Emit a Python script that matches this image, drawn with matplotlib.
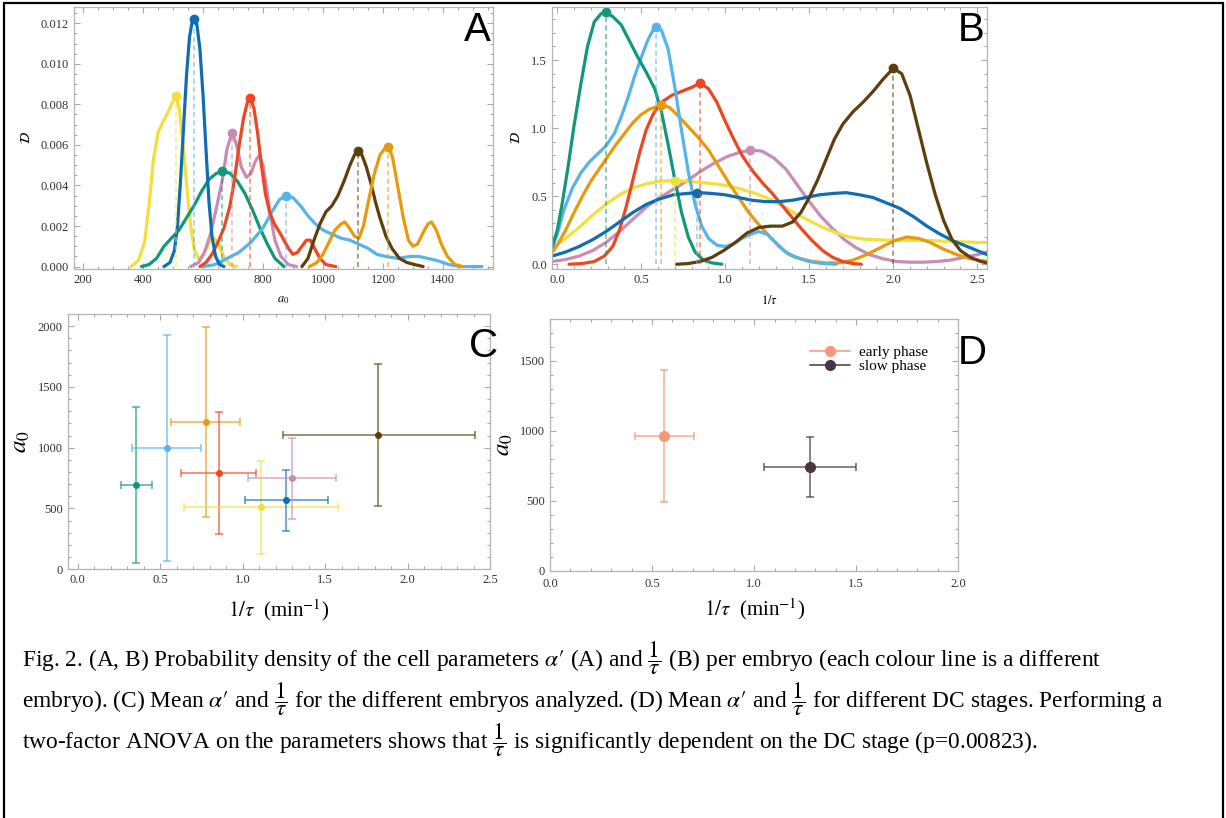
import matplotlib
matplotlib.use('Agg')
import matplotlib.pyplot as plt
from matplotlib.patches import Rectangle
from matplotlib.ticker import MultipleLocator

plt.rcParams['font.family'] = ['Liberation Serif', 'DejaVu Serif']
plt.rcParams['mathtext.fontset'] = 'stix'

# colours, one per embryo
c_yellow = '#F2E03A'
c_blue = '#0F6DB0'
c_green = '#11987A'
c_pink = '#C98DB4'
c_red = '#EE4620'
c_lblue = '#56B4E9'
c_brown = '#5E3F0B'
c_orange = '#E69A0C'

# ---- panel A: density of a0 per embryo
a_yellow_x = [360, 385, 405, 420, 435, 450, 465, 480, 495, 510, 522, 535, 548, 560, 572, 585, 598, 612, 625, 638, 652, 668, 690, 712]
a_yellow_y = [0, 0.0003, 0.0012, 0.0030, 0.0053, 0.0066, 0.0071, 0.0075, 0.0080, 0.0084, 0.0077, 0.0058, 0.0036, 0.0019, 0.0008, 0.0004, 0.0005, 0.0009, 0.0013, 0.0014, 0.0011, 0.0005, 0.0001, 0]
a_blue_x = [470, 490, 505, 515, 525, 535, 545, 555, 563, 571, 580, 590, 600, 610, 620, 630, 642, 655, 670]
a_blue_y = [0, 0.0002, 0.0008, 0.0020, 0.0042, 0.0068, 0.0094, 0.0113, 0.0120, 0.0122, 0.0119, 0.0107, 0.0085, 0.0058, 0.0032, 0.0015, 0.0005, 0.0001, 0]
a_green_x = [395, 420, 445, 470, 495, 520, 545, 570, 595, 620, 645, 668, 690, 715, 740, 765, 790, 815, 840, 870]
a_green_y = [0, 0.0001, 0.0004, 0.0010, 0.0014, 0.0018, 0.0024, 0.0030, 0.0037, 0.0043, 0.0046, 0.0047, 0.0046, 0.0042, 0.0036, 0.0028, 0.0019, 0.0011, 0.0004, 0]
a_pink_x = [559, 585, 605, 625, 645, 665, 680, 697, 712, 728, 745, 760, 775, 788, 800, 812, 825, 840, 860, 885, 912]
a_pink_y = [0, 0.0002, 0.0007, 0.0016, 0.0029, 0.0043, 0.0058, 0.0066, 0.0060, 0.0049, 0.0044, 0.0046, 0.0052, 0.0055, 0.0050, 0.0039, 0.0025, 0.0013, 0.0005, 0.0001, 0]
a_red_x = [590, 610, 630, 650, 670, 690, 705, 720, 735, 748, 758, 770, 782, 795, 808, 822, 838, 855, 870, 885, 900, 915, 930, 945, 958, 972, 990, 1010, 1043]
a_red_y = [0, 0.0002, 0.0006, 0.0012, 0.0019, 0.0030, 0.0043, 0.0059, 0.0073, 0.0081, 0.0083, 0.0078, 0.0066, 0.0050, 0.0036, 0.0027, 0.0021, 0.0017, 0.0013, 0.0009, 0.0006, 0.0007, 0.0010, 0.0013, 0.0013, 0.0009, 0.0004, 0.0001, 0]
a_lblue_x = [600, 640, 680, 720, 760, 800, 830, 855, 877, 900, 925, 950, 975, 1000, 1030, 1060, 1090, 1120, 1150, 1180, 1210, 1250, 1290, 1320, 1350, 1380, 1420, 1460, 1530]
a_lblue_y = [0, 0.0001, 0.0004, 0.0007, 0.0012, 0.0019, 0.0027, 0.0033, 0.0035, 0.0034, 0.0030, 0.0025, 0.0021, 0.0018, 0.0016, 0.0014, 0.0013, 0.0011, 0.0009, 0.0006, 0.0005, 0.0004, 0.0005, 0.0005, 0.0004, 0.0003, 0.0001, 0, 0]
a_brown_x = [930, 950, 970, 990, 1010, 1030, 1050, 1070, 1090, 1105, 1117, 1130, 1145, 1160, 1175, 1190, 1210, 1230, 1255, 1280, 1305, 1334]
a_brown_y = [0, 0.0004, 0.0013, 0.0021, 0.0027, 0.0030, 0.0035, 0.0042, 0.0050, 0.0055, 0.0057, 0.0055, 0.0049, 0.0041, 0.0032, 0.0024, 0.0015, 0.0009, 0.0004, 0.0002, 0.0001, 0]
a_orange_x = [955, 980, 1000, 1020, 1040, 1060, 1073, 1088, 1105, 1120, 1135, 1150, 1170, 1190, 1205, 1218, 1232, 1250, 1268, 1285, 1300, 1315, 1335, 1350, 1362, 1378, 1395, 1415, 1440, 1467]
a_orange_y = [0, 0.0002, 0.0006, 0.0012, 0.0018, 0.0021, 0.0022, 0.0019, 0.0015, 0.0014, 0.0020, 0.0031, 0.0045, 0.0055, 0.0058, 0.0059, 0.0054, 0.0039, 0.0024, 0.0013, 0.0010, 0.0011, 0.0017, 0.0021, 0.0022, 0.0018, 0.0011, 0.0005, 0.0001, 0]
a_peak_x = [510, 571, 665, 697, 758, 877, 1117, 1218]
a_peak_y = [0.0084, 0.0122, 0.0047, 0.0066, 0.0083, 0.0035, 0.0057, 0.0059]

# ---- panel B: density of 1/tau per embryo
b_green_x = [-0.03, 0.0, 0.03, 0.065, 0.1, 0.14, 0.18, 0.22, 0.26, 0.29, 0.33, 0.38, 0.43, 0.48, 0.53, 0.58, 0.62, 0.66, 0.70, 0.74, 0.78, 0.82, 0.87, 0.92, 0.98]
b_green_y = [0.13, 0.25, 0.45, 0.72, 1.02, 1.32, 1.60, 1.78, 1.84, 1.85, 1.82, 1.76, 1.64, 1.52, 1.41, 1.29, 1.12, 0.88, 0.62, 0.38, 0.20, 0.09, 0.03, 0.01, 0.0]
b_lblue_x = [-0.03, 0.0, 0.04, 0.09, 0.14, 0.19, 0.24, 0.29, 0.34, 0.38, 0.42, 0.46, 0.50, 0.54, 0.57, 0.59, 0.62, 0.66, 0.70, 0.74, 0.78, 0.82, 0.86, 0.90, 0.95, 1.00, 1.05, 1.10, 1.15, 1.20, 1.25, 1.30, 1.36, 1.42, 1.50, 1.58, 1.66]
b_lblue_y = [0.12, 0.22, 0.40, 0.56, 0.67, 0.75, 0.81, 0.87, 0.96, 1.08, 1.22, 1.38, 1.52, 1.65, 1.72, 1.745, 1.72, 1.58, 1.30, 0.98, 0.68, 0.44, 0.28, 0.19, 0.14, 0.13, 0.15, 0.19, 0.22, 0.24, 0.22, 0.16, 0.09, 0.05, 0.02, 0.005, 0.0]
b_orange_x = [-0.03, 0.0, 0.05, 0.10, 0.15, 0.20, 0.25, 0.30, 0.35, 0.40, 0.45, 0.50, 0.55, 0.60, 0.63, 0.67, 0.72, 0.78, 0.84, 0.90, 0.96, 1.02, 1.08, 1.14, 1.20, 1.26, 1.32, 1.38, 1.45, 1.52, 1.60, 1.68, 1.76, 1.84, 1.92, 2.00, 2.08, 2.15, 2.22, 2.30, 2.38, 2.46, 2.56]
b_orange_y = [0.09, 0.14, 0.25, 0.38, 0.50, 0.61, 0.70, 0.79, 0.88, 0.96, 1.04, 1.10, 1.14, 1.16, 1.17, 1.15, 1.09, 1.01, 0.93, 0.84, 0.72, 0.60, 0.49, 0.38, 0.29, 0.21, 0.13, 0.07, 0.04, 0.02, 0.01, 0.01, 0.03, 0.07, 0.12, 0.17, 0.20, 0.19, 0.16, 0.11, 0.07, 0.04, 0.02]
b_red_x = [0.07, 0.15, 0.22, 0.28, 0.33, 0.37, 0.41, 0.45, 0.49, 0.53, 0.57, 0.62, 0.68, 0.74, 0.80, 0.85, 0.90, 0.95, 1.00, 1.05, 1.10, 1.16, 1.22, 1.28, 1.34, 1.40, 1.46, 1.52, 1.58, 1.64, 1.70, 1.76, 1.81]
b_red_y = [0.0, 0.005, 0.02, 0.06, 0.13, 0.25, 0.42, 0.62, 0.82, 0.99, 1.10, 1.19, 1.24, 1.27, 1.30, 1.33, 1.29, 1.19, 1.05, 0.92, 0.80, 0.69, 0.60, 0.52, 0.43, 0.34, 0.25, 0.17, 0.10, 0.05, 0.02, 0.005, 0.0]
b_pink_x = [-0.03, 0.05, 0.13, 0.21, 0.29, 0.37, 0.45, 0.53, 0.61, 0.69, 0.77, 0.85, 0.93, 1.01, 1.08, 1.15, 1.22, 1.29, 1.36, 1.43, 1.50, 1.57, 1.64, 1.71, 1.78, 1.86, 1.94, 2.02, 2.10, 2.18, 2.26, 2.34, 2.42, 2.50, 2.56]
b_pink_y = [0.02, 0.035, 0.06, 0.10, 0.16, 0.24, 0.33, 0.42, 0.49, 0.55, 0.61, 0.68, 0.74, 0.79, 0.82, 0.84, 0.83, 0.78, 0.70, 0.58, 0.46, 0.35, 0.26, 0.18, 0.12, 0.07, 0.04, 0.02, 0.015, 0.015, 0.02, 0.03, 0.05, 0.07, 0.09]
b_yellow_x = [-0.03, 0.05, 0.13, 0.21, 0.29, 0.37, 0.45, 0.53, 0.61, 0.70, 0.78, 0.86, 0.94, 1.02, 1.10, 1.18, 1.26, 1.34, 1.42, 1.50, 1.58, 1.66, 1.74, 1.82, 1.90, 2.00, 2.10, 2.20, 2.30, 2.40, 2.50, 2.56]
b_yellow_y = [0.12, 0.19, 0.27, 0.36, 0.44, 0.51, 0.56, 0.59, 0.61, 0.615, 0.61, 0.60, 0.59, 0.575, 0.55, 0.52, 0.48, 0.43, 0.37, 0.32, 0.27, 0.23, 0.20, 0.185, 0.18, 0.175, 0.175, 0.175, 0.17, 0.165, 0.16, 0.16]
b_blue_x = [-0.03, 0.05, 0.13, 0.21, 0.29, 0.37, 0.45, 0.53, 0.61, 0.69, 0.77, 0.845, 0.92, 1.00, 1.08, 1.16, 1.24, 1.32, 1.40, 1.48, 1.56, 1.64, 1.72, 1.80, 1.88, 1.96, 2.04, 2.12, 2.20, 2.28, 2.36, 2.44, 2.50, 2.56]
b_blue_y = [0.06, 0.09, 0.13, 0.18, 0.24, 0.31, 0.38, 0.44, 0.48, 0.51, 0.52, 0.526, 0.52, 0.51, 0.49, 0.47, 0.46, 0.46, 0.47, 0.49, 0.51, 0.52, 0.526, 0.51, 0.49, 0.45, 0.41, 0.35, 0.28, 0.22, 0.17, 0.13, 0.10, 0.07]
b_brown_x = [0.71, 0.78, 0.85, 0.92, 0.99, 1.06, 1.13, 1.20, 1.27, 1.34, 1.40, 1.45, 1.50, 1.55, 1.60, 1.65, 1.70, 1.76, 1.82, 1.88, 1.94, 2.00, 2.05, 2.10, 2.15, 2.20, 2.25, 2.30, 2.35, 2.40, 2.46, 2.52, 2.56]
b_brown_y = [0.0, 0.005, 0.02, 0.05, 0.10, 0.16, 0.23, 0.27, 0.28, 0.28, 0.31, 0.38, 0.49, 0.62, 0.77, 0.92, 1.03, 1.12, 1.19, 1.27, 1.36, 1.44, 1.40, 1.24, 0.99, 0.74, 0.51, 0.32, 0.18, 0.10, 0.05, 0.02, 0.01]
b_peak_x = [0.29, 0.59, 0.62, 0.70, 0.83, 0.85, 1.15, 2.00]
b_peak_y = [1.85, 1.745, 1.17, 0.615, 0.526, 1.33, 0.84, 1.44]

# ---- panel C: mean +- sd per embryo (1/tau, a0)
c_tau = [0.356, 0.541, 0.776, 0.857, 1.111, 1.262, 1.301, 1.824]
c_tau_lo = [0.261, 0.331, 0.567, 0.628, 0.648, 1.012, 1.036, 1.244]
c_tau_hi = [0.453, 0.750, 0.986, 1.083, 1.578, 1.517, 1.564, 2.410]
c_a0 = [693, 1000, 1211, 792, 512, 567, 748, 1105]
c_a0_lo = [49, 71, 433, 290, 126, 315, 414, 523]
c_a0_hi = [1332, 1927, 1990, 1296, 893, 817, 1080, 1688]

# ---- panel D: mean +- sd per DC stage
d_labels = ['early phase', 'slow phase']
d_tau = [0.56, 1.273]
d_tau_lo = [0.417, 1.05]
d_tau_hi = [0.706, 1.497]
d_a0 = [961, 739]
d_a0_lo = [491, 529]
d_a0_hi = [1436, 956]

fig = plt.figure(figsize=(12.26, 8.18), dpi=100)


def frame(ax):
    for s in ax.spines.values():
        s.set_color('#b4b4b4')
        s.set_linewidth(0.9)
    ax.tick_params(which='both', direction='in', top=True, right=True, colors='#a8a8a8',
                   labelcolor='#333333', labelsize=9, width=0.8)
    ax.tick_params(which='major', length=4.5)
    ax.tick_params(which='minor', length=2.5)


# A
axA = fig.add_axes([74/1226, 1-269/818, 419/1226, 262/818])
curvesA = [(a_yellow_x, a_yellow_y, c_yellow), (a_green_x, a_green_y, c_green),
           (a_lblue_x, a_lblue_y, c_lblue), (a_pink_x, a_pink_y, c_pink),
           (a_red_x, a_red_y, c_red), (a_blue_x, a_blue_y, c_blue),
           (a_brown_x, a_brown_y, c_brown), (a_orange_x, a_orange_y, c_orange)]
peak_colsA = [c_yellow, c_blue, c_green, c_pink, c_red, c_lblue, c_brown, c_orange]
for x, y, c in curvesA:
    axA.plot(x, y, color=c, lw=2.3, solid_joinstyle='round', solid_capstyle='round')
for px, py, c in zip(a_peak_x, a_peak_y, peak_colsA):
    dc = c_lblue if c == c_blue else c
    axA.vlines(px, 0, py, colors=dc, linestyles=(0, (3, 2)), lw=1.2, alpha=0.6)
    axA.plot(px, py, 'o', color=c, ms=6)
axA.set_xlim(170, 1567)
axA.set_ylim(-0.00012, 0.0128)
axA.xaxis.set_major_locator(MultipleLocator(200))
axA.xaxis.set_minor_locator(MultipleLocator(50))
axA.yaxis.set_major_locator(MultipleLocator(0.002))
axA.yaxis.set_minor_locator(MultipleLocator(0.0005))
axA.yaxis.set_major_formatter(plt.FuncFormatter(lambda v, p: '%.3f' % v))
frame(axA)
axA.set_xlabel(r'$a_0$', fontsize=9, labelpad=6)
axA.set_ylabel(r'$\mathcal{D}$', fontsize=10, labelpad=6)
axA.text(0.995, 0.985, 'A', transform=axA.transAxes, ha='right', va='top',
         fontsize=29, family='Liberation Sans')

# B
axB = fig.add_axes([551.7/1226, 1-269/818, 435/1226, 262/818])
curvesB = [(b_pink_x, b_pink_y, c_pink), (b_yellow_x, b_yellow_y, c_yellow),
           (b_orange_x, b_orange_y, c_orange), (b_red_x, b_red_y, c_red),
           (b_lblue_x, b_lblue_y, c_lblue), (b_green_x, b_green_y, c_green),
           (b_blue_x, b_blue_y, c_blue), (b_brown_x, b_brown_y, c_brown)]
peak_colsB = [c_green, c_lblue, c_orange, c_yellow, c_blue, c_red, c_pink, c_brown]
for x, y, c in curvesB:
    axB.plot(x, y, color=c, lw=2.3, solid_joinstyle='round', solid_capstyle='round')
for px, py, c in zip(b_peak_x, b_peak_y, peak_colsB):
    dc = c_lblue if c == c_blue else c
    axB.vlines(px, 0, py, colors=dc, linestyles=(0, (3, 2)), lw=1.2, alpha=0.6)
    axB.plot(px, py, 'o', color=c, ms=6)
axB.set_xlim(-0.033, 2.556)
axB.set_ylim(-0.035, 1.89)
axB.xaxis.set_major_locator(MultipleLocator(0.5))
axB.xaxis.set_minor_locator(MultipleLocator(0.1))
axB.yaxis.set_major_locator(MultipleLocator(0.5))
axB.yaxis.set_minor_locator(MultipleLocator(0.1))
frame(axB)
axB.set_xlabel(r'$1/\tau$', fontsize=9, labelpad=6)
axB.set_ylabel(r'$\mathcal{D}$', fontsize=10, labelpad=6)
axB.text(0.995, 0.985, 'B', transform=axB.transAxes, ha='right', va='top',
         fontsize=29, family='Liberation Sans')

# C
axC = fig.add_axes([67.7/1226, 1-569.3/818, 422.3/1226, 255.3/818])
colsC = [c_green, c_lblue, c_orange, c_red, c_yellow, c_blue, c_pink, c_brown]
for i, c in enumerate(colsC):
    xe = [[c_tau[i] - c_tau_lo[i]], [c_tau_hi[i] - c_tau[i]]]
    ye = [[c_a0[i] - c_a0_lo[i]], [c_a0_hi[i] - c_a0[i]]]
    axC.errorbar([c_tau[i]], [c_a0[i]], xerr=xe, yerr=ye, fmt='none', ecolor=c,
                 elinewidth=1.1, capsize=3, capthick=1.1, alpha=0.75)
    axC.plot(c_tau[i], c_a0[i], 'o', color=c, ms=4)
axC.set_xlim(-0.06, 2.5)
axC.set_ylim(0, 2099)
axC.xaxis.set_major_locator(MultipleLocator(0.5))
axC.xaxis.set_minor_locator(MultipleLocator(0.1))
axC.yaxis.set_major_locator(MultipleLocator(500))
axC.yaxis.set_minor_locator(MultipleLocator(100))
frame(axC)
axC.set_xlabel(r'$1/\tau$  (min$^{-1}$)', fontsize=15, labelpad=8)
axC.set_ylabel(r'$a_0$', fontsize=18, labelpad=4)
axC.text(1.02, 0.95, 'C', transform=axC.transAxes, ha='right', va='top',
         fontsize=29, family='Liberation Sans')

# D
axD = fig.add_axes([550/1226, 1-570.7/818, 408.3/1226, 251.7/818])
colsD = ['#F5977A', '#4A3442']
for i, c in enumerate(colsD):
    xe = [[d_tau[i] - d_tau_lo[i]], [d_tau_hi[i] - d_tau[i]]]
    ye = [[d_a0[i] - d_a0_lo[i]], [d_a0_hi[i] - d_a0[i]]]
    axD.errorbar([d_tau[i]], [d_a0[i]], xerr=xe, yerr=ye, fmt='none', ecolor=c,
                 elinewidth=1.1, capsize=3, capthick=1.1, alpha=0.8)
    axD.plot(d_tau[i], d_a0[i], 'o', color=c, ms=7)
handles = [plt.Line2D([], [], color=c, marker='o', ms=7, lw=1.1) for c in colsD]
axD.legend(handles, d_labels, loc='upper right', bbox_to_anchor=(0.96, 0.95),
           frameon=False, fontsize=11, handlelength=2.6, labelspacing=0.05,
           handletextpad=0.6)
axD.set_xlim(0, 2.0)
axD.set_ylim(0, 1800)
axD.xaxis.set_major_locator(MultipleLocator(0.5))
axD.xaxis.set_minor_locator(MultipleLocator(0.1))
axD.yaxis.set_major_locator(MultipleLocator(500))
axD.yaxis.set_minor_locator(MultipleLocator(100))
frame(axD)
axD.tick_params(axis='x', pad=5)
axD.set_xlabel(r'$1/\tau$  (min$^{-1}$)', fontsize=15, labelpad=5)
axD.set_ylabel(r'$a_0$', fontsize=18, labelpad=4)
axD.text(1.07, 0.94, 'D', transform=axD.transAxes, ha='right', va='top',
         fontsize=29, family='Liberation Sans')

# caption
cap = [r"Fig. 2. (A, B) Probability density of the cell parameters $\alpha\prime$ (A) and $\dfrac{1}{\tau}$ (B) per embryo (each colour line is a different",
       r"embryo). (C) Mean $\alpha\prime$ and $\dfrac{1}{\tau}$ for the different embryos analyzed. (D) Mean $\alpha\prime$ and $\dfrac{1}{\tau}$ for different DC stages. Performing a",
       r"two-factor ANOVA on the parameters shows that $\dfrac{1}{\tau}$ is significantly dependent on the DC stage (p=0.00823)."]
for i, line in enumerate(cap):
    fig.text(22/1226, 1 - (667 + 41*i)/818, line, fontsize=16.8, ha='left', va='baseline')

fig.add_artist(Rectangle((4/1226, -0.05), 1219/1226, 1.05 - 3/818, transform=fig.transFigure,
                         fill=False, edgecolor='black', lw=1.6))

fig.savefig('out.png', dpi=100)
